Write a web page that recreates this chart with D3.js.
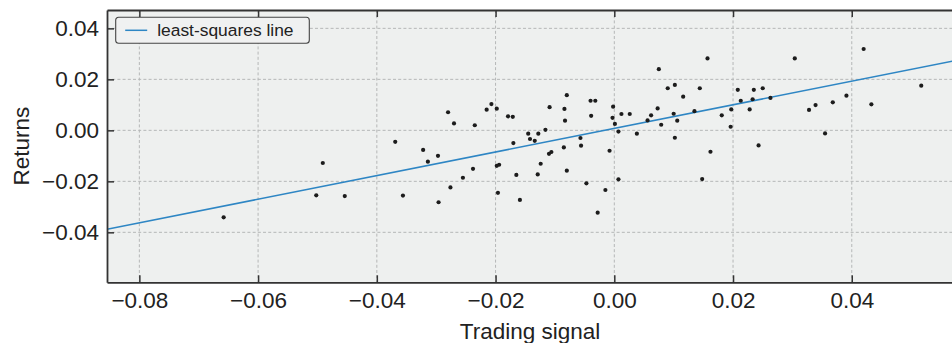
<!DOCTYPE html>
<html>
<head>
<meta charset="utf-8">
<script src="https://cdn.jsdelivr.net/npm/d3@7"></script>
<style>
  html, body { margin: 0; padding: 0; background: #ffffff; }
  svg { display: block; font-family: "Liberation Sans", Arial, Helvetica, sans-serif; }
</style>
</head>
<body>
<svg id="chart" width="952" height="343"></svg>
<script>
// Trading signal vs. next-period returns
const signal = [
  -0.0658, -0.0502, -0.0491, -0.0454,
  -0.0369, -0.0356, -0.0322, -0.0314, -0.0297, -0.0296, -0.0280, -0.0276, -0.0270, -0.0255,
  -0.0238, -0.0235, -0.0215, -0.0207, -0.0198, -0.0198, -0.0194, -0.0196, -0.0179, -0.0171,
  -0.0170, -0.0165, -0.0159, -0.0145, -0.0142, -0.0134, -0.0128, -0.0129, -0.0124, -0.0116,
  -0.0109, -0.0110, -0.0106, -0.0085, -0.0084, -0.0083, -0.0080, -0.0080, -0.0057, -0.0056,
  -0.0047, -0.0040, -0.0032, -0.0039, -0.0028, -0.0015, -0.0008, -0.0002, -0.0003, 0.0001,
  0.0007, 0.0007, 0.0012, 0.0026, 0.0038, 0.0056, 0.0062, 0.0073, 0.0075, 0.0079,
  0.0090, 0.0100, 0.0102, 0.0102, 0.0106, 0.0116, 0.0135, 0.0144, 0.0157, 0.0162,
  0.0148, 0.0181, 0.0196, 0.0197, 0.0208, 0.0213, 0.0228, 0.0233, 0.0235, 0.0243,
  0.0250, 0.0263, 0.0304, 0.0328, 0.0339, 0.0355, 0.0368, 0.0391, 0.0420, 0.0433,
  0.0517
];
const returns = [
  -0.0341, -0.0255, -0.0128, -0.0258,
  -0.0045, -0.0256, -0.0077, -0.0123, -0.0100, -0.0282, 0.0071, -0.0224, 0.0027, -0.0186,
  -0.0151, 0.0020, 0.0081, 0.0103, 0.0085, -0.0139, -0.0135, -0.0245, 0.0055, 0.0053,
  -0.0050, -0.0175, -0.0273, -0.0013, -0.0034, -0.0041, -0.0013, -0.0173, -0.0131, 0.0002,
  0.0091, -0.0092, -0.0085, -0.0067, 0.0084, 0.0038, 0.0138, -0.0158, -0.0030, -0.0060,
  -0.0208, 0.0116, 0.0116, 0.0057, -0.0323, -0.0234, -0.0080, 0.0093, 0.0049, 0.0025,
  -0.0005, -0.0192, 0.0064, 0.0064, -0.0013, 0.0039, 0.0059, 0.0086, 0.0240, 0.0022,
  0.0165, 0.0065, 0.0178, -0.0029, 0.0038, 0.0132, 0.0075, 0.0165, 0.0282, -0.0084,
  -0.0191, 0.0059, 0.0014, 0.0082, 0.0159, 0.0116, 0.0082, 0.0122, 0.0159, -0.0059,
  0.0165, 0.0127, 0.0282, 0.0080, 0.0099, -0.0012, 0.0110, 0.0136, 0.0319, 0.0102,
  0.0175
];
// fitted line: returns = intercept + slope * signal
const fitCoefficients = [0.00077, 0.463];   // [intercept, slope]
const xTicks = [-0.08, -0.06, -0.04, -0.02, 0.00, 0.02, 0.04];
const yTicks = [-0.04, -0.02, 0.00, 0.02, 0.04];
const xDomain = [-0.08545, 0.05705];
const yDomain = [-0.0596, 0.0472];
const legendLabel = "least-squares line";
const xLabel = "Trading signal";
const yLabel = "Returns";

const svg = d3.select("#chart");
const plot = { left: 107, top: 10, right: 953, bottom: 282.3 };

const x = d3.scaleLinear().domain(xDomain).range([plot.left, plot.right]);
const y = d3.scaleLinear().domain(yDomain).range([plot.bottom, plot.top]);
const fmt = d3.format(".2f");

// panel background
svg.append("rect")
  .attr("x", plot.left).attr("y", plot.top)
  .attr("width", plot.right - plot.left).attr("height", plot.bottom - plot.top)
  .attr("fill", "#eef0ef");

svg.append("clipPath").attr("id", "clip")
  .append("rect")
  .attr("x", plot.left).attr("y", plot.top)
  .attr("width", plot.right - plot.left).attr("height", plot.bottom - plot.top);

// dotted grid
const grid = svg.append("g").attr("stroke", "#b5b7b7").attr("stroke-width", 1)
  .attr("stroke-dasharray", "3,2.2");
grid.selectAll("line.gx").data(xTicks).join("line").attr("class", "gx")
  .attr("x1", d => x(d)).attr("x2", d => x(d))
  .attr("y1", plot.top).attr("y2", plot.bottom);
grid.selectAll("line.gy").data(yTicks).join("line").attr("class", "gy")
  .attr("x1", plot.left).attr("x2", plot.right)
  .attr("y1", d => y(d)).attr("y2", d => y(d));

const [intercept, slope] = fitCoefficients;

const marks = svg.append("g").attr("clip-path", "url(#clip)");
marks.append("path")
  .datum(xDomain)
  .attr("fill", "none").attr("stroke", "#2e86c4").attr("stroke-width", 1.5)
  .attr("d", d3.line().x(d => x(d)).y(d => y(intercept + slope * d)));

marks.selectAll("circle").data(signal).join("circle")
  .attr("cx", d => x(d))
  .attr("cy", (d, i) => y(returns[i]))
  .attr("r", 2.1)
  .attr("fill", "#1c1c1c");

// axes with inward ticks
const axisColor = "#333333";
const bottomAxis = svg.append("g").attr("transform", `translate(0,${plot.bottom})`)
  .call(d3.axisBottom(x).tickValues(xTicks).tickFormat(fmt).tickSizeInner(-7).tickSizeOuter(0).tickPadding(10));
const topAxis = svg.append("g").attr("transform", `translate(0,${plot.top})`)
  .call(d3.axisTop(x).tickValues(xTicks).tickFormat("").tickSizeInner(-7).tickSizeOuter(0));
const leftAxis = svg.append("g").attr("transform", `translate(${plot.left},0)`)
  .call(d3.axisLeft(y).tickValues(yTicks).tickFormat(fmt).tickSizeInner(-7).tickSizeOuter(0).tickPadding(8));

[bottomAxis, topAxis, leftAxis].forEach(g => {
  g.select(".domain").attr("stroke", axisColor).attr("stroke-width", 1.8);
  g.selectAll(".tick line").attr("stroke", axisColor).attr("stroke-width", 1.5);
  g.selectAll("text").attr("fill", "#222").style("font-size", "22.5px");
});
bottomAxis.selectAll("text").attr("dy", "0.71em");

// axis titles
svg.append("text")
  .attr("x", (plot.left + plot.right) / 2).attr("y", 339)
  .attr("text-anchor", "middle").attr("fill", "#222")
  .style("font-size", "22.5px").text(xLabel);
svg.append("text")
  .attr("transform", `translate(28.5,${(plot.top + plot.bottom) / 2}) rotate(-90)`)
  .attr("text-anchor", "middle").attr("fill", "#222")
  .style("font-size", "22.5px").text(yLabel);

// legend
const legend = svg.append("g").attr("transform", "translate(115.7,17.3)");
legend.append("rect")
  .attr("width", 193.6).attr("height", 26).attr("rx", 3).attr("ry", 3)
  .attr("fill", "#f0f1f1").attr("stroke", "#444").attr("stroke-width", 1.1);
legend.append("line")
  .attr("x1", 9.5).attr("x2", 31.5).attr("y1", 13).attr("y2", 13)
  .attr("stroke", "#2e86c4").attr("stroke-width", 1.5);
legend.append("text")
  .attr("x", 41.5).attr("y", 19)
  .attr("fill", "#222").style("font-size", "17.4px").text(legendLabel);
</script>
</body>
</html>
